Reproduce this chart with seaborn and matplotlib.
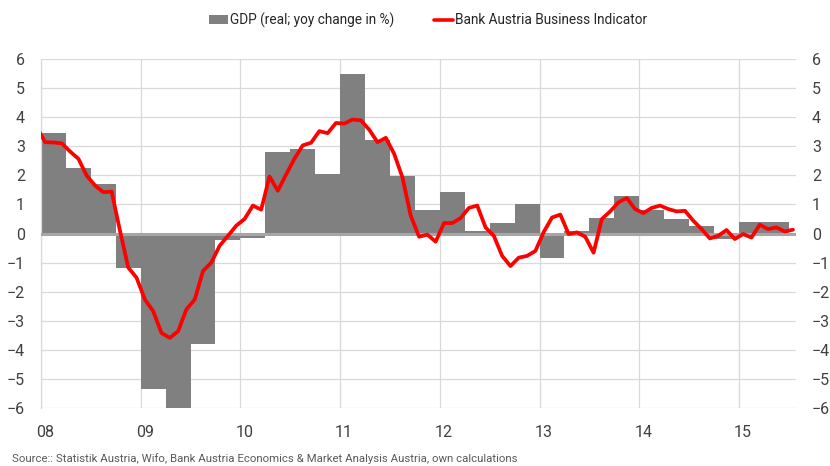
import matplotlib
matplotlib.use('Agg')
import matplotlib.pyplot as plt
import matplotlib.transforms as mtransforms
from matplotlib.patches import Patch
from matplotlib.lines import Line2D
import seaborn as sns
import numpy as np

# GDP, real, yoy change in % (quarterly, 2008Q1 - 2015Q2)
gdp_values = [3.45, 2.26, 1.71, -1.17,
              -5.35, -6.40, -3.79, -0.22,
              -0.15, 2.79, 2.89, 2.03,
              5.48, 3.20, 1.97, 0.81,
              1.44, 0.09, 0.35, 1.03,
              -0.83, 0.09, 0.53, 1.28,
              0.80, 0.50, 0.27, -0.20,
              0.38, 0.38]

# Bank Austria Business Indicator (monthly, Dec 2007 - Jul 2015)
bi_values = [3.65,
             3.14, 3.13, 3.10, 2.82, 2.57, 1.99, 1.65, 1.42, 1.44, 0.10, -1.17, -1.52,
             -2.27, -2.67, -3.42, -3.59, -3.36, -2.61, -2.27, -1.29, -1.00, -0.42, -0.08, 0.27,
             0.50, 0.96, 0.82, 1.96, 1.47, 2.03, 2.57, 3.03, 3.12, 3.52, 3.45, 3.80,
             3.78, 3.92, 3.89, 3.57, 3.14, 3.29, 2.74, 1.93, 0.61, -0.11, -0.04, -0.28,
             0.36, 0.36, 0.53, 0.88, 0.96, 0.21, -0.08, -0.77, -1.12, -0.83, -0.77, -0.60,
             0.05, 0.55, 0.65, -0.02, 0.04, -0.11, -0.66, 0.50, 0.76, 1.07, 1.22, 0.84,
             0.70, 0.88, 0.96, 0.84, 0.76, 0.78, 0.44, 0.15, -0.17, -0.08, 0.12, -0.19,
             -0.02, -0.14, 0.30, 0.15, 0.21, 0.07, 0.13]

year_ticks = [2008, 2009, 2010, 2011, 2012, 2013, 2014, 2015]
year_labels = ['08', '09', '10', '11', '12', '13', '14', '15']
y_ticks = list(range(-6, 7))

gdp_x = 2008 + 0.125 + 0.25 * np.arange(len(gdp_values))
bi_x = 2008 + (np.arange(len(bi_values)) - 1 + 0.5) / 12

sns.set_style("white")
plt.rcParams['font.family'] = ['Roboto', 'DejaVu Sans']

fig = plt.figure(figsize=(8.3, 4.66), dpi=100)
ax = fig.add_axes([41 / 830, 1 - 408 / 466, 755 / 830, 349 / 466])

sns.barplot(x=gdp_x, y=gdp_values, native_scale=True, width=1.0, color='#808080',
            saturation=1, errorbar=None, linewidth=0, ax=ax, zorder=2)
ax.axhline(0, color='#a6a6a6', lw=2.2, zorder=3)
sns.lineplot(x=bi_x, y=bi_values, color='#ff0000', lw=2.7, ax=ax, zorder=4)

ax.set_xlim(2008, 2015.572)
ax.set_ylim(-6, 6)
ax.set_xticks(year_ticks)
ax.set_xticklabels(year_labels)
ax.set_yticks(y_ticks)
ax.set_xlabel('')
ax.set_ylabel('')
ax.grid(True, color='#d9d9d9', lw=0.9, zorder=0)
ax.set_axisbelow(True)
for side in ['top', 'right', 'bottom']:
    ax.spines[side].set_visible(False)
ax.spines['left'].set_color('#d9d9d9')
ax.spines['left'].set_linewidth(0.9)

ax.tick_params(axis='y', length=0, pad=11.5, labelsize=11.5, labelcolor='#404040',
               labelleft=True, labelright=True)
ax.tick_params(axis='x', length=0, pad=12, labelsize=11.5, labelcolor='#404040')
offset = mtransforms.ScaledTranslation(4 / 100, 0, fig.dpi_scale_trans)
for lab in ax.get_xticklabels():
    lab.set_transform(lab.get_transform() + offset)

handles = [Patch(facecolor='#808080', edgecolor='none'),
           Line2D([0], [0], color='#ff0000', lw=2.6)]
labels = ['GDP (real; yoy change in %)', 'Bank Austria Business Indicator']
fig.legend(handles, labels, loc='center', bbox_to_anchor=(0.516, 1 - 20 / 466), ncol=2,
           frameon=False, fontsize=9.8, handlelength=1.4, handleheight=0.6,
           handletextpad=0.15, columnspacing=2.9, labelcolor='#262626')

fig.text(12 / 830, 1 - 459 / 466, 'Source:: Statistik Austria, Wifo, Bank Austria Economics & '
         'Market Analysis Austria, own calculations', fontsize=8.2, color='#595959',
         va='center', ha='left')

fig.savefig('out.png', dpi=100)
